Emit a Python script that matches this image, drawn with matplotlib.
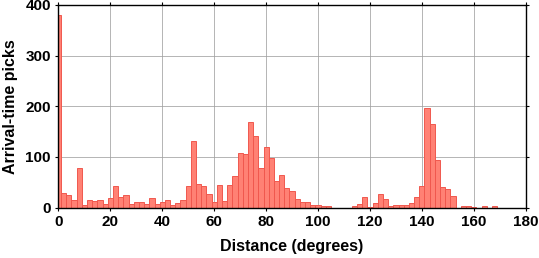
import numpy as np
import matplotlib
matplotlib.use("Agg")
import matplotlib.pyplot as plt

plt.rcParams['font.family'] = ['Liberation Sans', 'DejaVu Sans']

# bins of 2 degrees, centred on even distances
BIN_WIDTH = 2
CENTERS = list(range(0, 182, BIN_WIDTH))
COUNTS = [380, 29, 24, 14, 78, 4, 15, 12, 15, 7,
          19, 43, 21, 25, 7, 11, 10, 7, 19, 6,
          11, 14, 4, 8, 15, 43, 132, 47, 43, 27,
          10, 45, 13, 45, 63, 108, 106, 168, 142, 78,
          120, 98, 53, 65, 39, 33, 17, 11, 11, 5,
          5, 3, 3, 0, 0, 0, 0, 3, 7, 21,
          1, 9, 27, 17, 2, 5, 4, 5, 9, 21,
          43, 196, 164, 94, 41, 37, 23, 0, 3, 3,
          1, 0, 3, 0, 3, 0, 0, 0, 0, 0, 0]
XTICKS = list(range(0, 181, 20))
YTICKS = list(range(0, 401, 100))

fig = plt.figure(figsize=(5.39, 2.58), dpi=100)
ax = fig.add_axes([0.1085, 0.1957, 0.8668, 0.785])

ax.bar(CENTERS, COUNTS, width=BIN_WIDTH, facecolor='#ff8174',
       edgecolor='#f0584e', linewidth=0.7, zorder=2)

ax.set_xlim(0, 180)
ax.set_ylim(0, 400)
ax.set_xticks(XTICKS)
ax.set_yticks(YTICKS)
ax.grid(True, color='#a0a0a0', linewidth=0.55, zorder=1)
ax.set_axisbelow(True)

for s in ax.spines.values():
    s.set_linewidth(1.0)
    s.set_zorder(3)
ax.tick_params(direction='out', length=2.5, width=0.8, top=True, right=True,
               labelsize=11, pad=3)
for lab in ax.get_xticklabels() + ax.get_yticklabels():
    lab.set_fontweight('bold')

ax.set_xlabel("Distance (degrees)", fontsize=11.5, fontweight='bold', labelpad=7)
ax.set_ylabel("Arrival-time picks", fontsize=11.5, fontweight='bold', labelpad=5)

fig.savefig("out.png", dpi=100)
